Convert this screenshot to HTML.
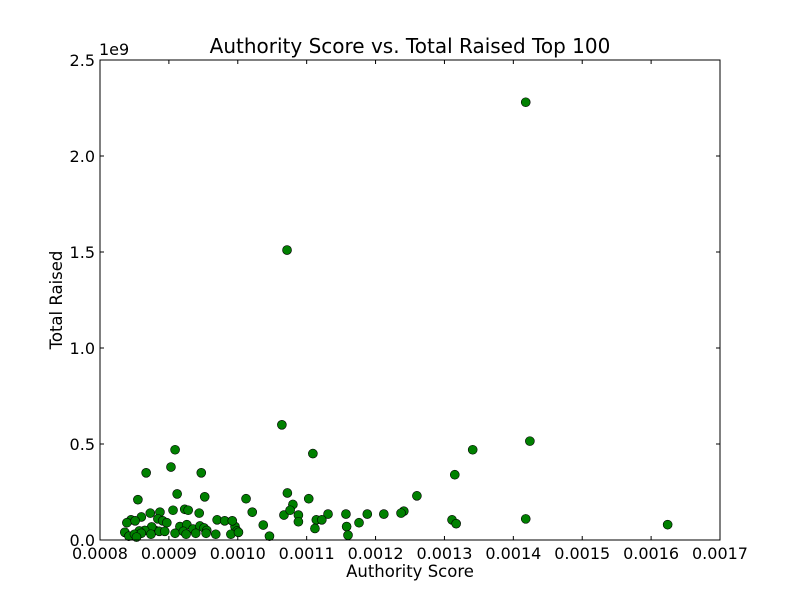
<!DOCTYPE html>
<html><head><meta charset="utf-8"><style>
html,body{margin:0;padding:0;background:#fff;}
svg{display:block;font-family:"DejaVu Sans","Liberation Sans",sans-serif;}
</style></head><body>
<svg id="chart" width="800" height="600" xmlns="http://www.w3.org/2000/svg">
<rect x="0" y="0" width="800" height="600" fill="#fff"/>
<text x="410" y="53" font-size="20" text-anchor="middle">Authority Score vs. Total Raised Top 100</text>
<text x="410" y="577" font-size="16.5" text-anchor="middle">Authority Score</text>
<text x="62" y="300" font-size="16.5" text-anchor="middle" transform="rotate(-90 62 300)">Total Raised</text>
<text x="99" y="55" font-size="16">1e9</text>
<g id="ticks"></g>
<g id="points"></g>
<rect x="100" y="60" width="620" height="480" fill="none" stroke="#000" stroke-width="1"/>
</svg>
<script>
const xTicks = [0.0008,0.0009,0.0010,0.0011,0.0012,0.0013,0.0014,0.0015,0.0016,0.0017];
const xTickLabels = ["0.0008","0.0009","0.0010","0.0011","0.0012","0.0013","0.0014","0.0015","0.0016","0.0017"];
const yTicks = [0,0.5,1.0,1.5,2.0,2.5];
const yTickLabels = ["0.0","0.5","1.0","1.5","2.0","2.5"];
const authorityScore = [0.001418,0.0010715,0.001064,0.001109,0.000909,0.000867,0.000903,0.000947,0.001424,0.001341,0.001315,0.000912,0.000952,0.000855,0.001012,0.001072,0.00108,0.001103,0.00126,0.001241,0.001237,0.001188,0.001212,0.001157,0.001131,0.001088,0.001067,0.001076,0.001021,0.000996,0.00097,0.000981,0.000992,0.000999,0.00099,0.000968,0.001037,0.001046,0.001088,0.001114,0.001122,0.001112,0.001158,0.00116,0.001176,0.001311,0.001317,0.001418,0.001624,0.000906,0.000923,0.000928,0.000944,0.000887,0.000873,0.00086,0.000845,0.000839,0.000851,0.000884,0.000891,0.000897,0.000916,0.000926,0.000935,0.000945,0.000951,0.000955,0.00088,0.000875,0.000865,0.000857,0.000836,0.000842,0.00085,0.00086,0.000874,0.000886,0.000894,0.000909,0.000921,0.000925,0.000939,0.000954,0.001001,0.000853];
const totalRaised = [2.28,1.51,0.60,0.45,0.47,0.35,0.38,0.35,0.515,0.47,0.34,0.24,0.225,0.21,0.215,0.245,0.185,0.215,0.23,0.15,0.14,0.135,0.135,0.135,0.135,0.13,0.13,0.155,0.145,0.07,0.105,0.10,0.10,0.047,0.03,0.03,0.078,0.02,0.095,0.105,0.105,0.06,0.07,0.025,0.09,0.105,0.085,0.11,0.08,0.155,0.16,0.155,0.14,0.145,0.14,0.12,0.105,0.09,0.10,0.11,0.10,0.09,0.07,0.08,0.057,0.073,0.063,0.05,0.05,0.068,0.05,0.047,0.04,0.02,0.03,0.035,0.03,0.045,0.045,0.035,0.045,0.03,0.035,0.035,0.04,0.015];
const L=100,R=720,T=60,B=540,X0=0.0008,X1=0.0017,Y0=0,Y1=2.5;
const sx=v=>L+(v-X0)/(X1-X0)*(R-L);
const sy=v=>B-(v-Y0)/(Y1-Y0)*(B-T);
const NS="http://www.w3.org/2000/svg";
const tg=document.getElementById('ticks'), pg=document.getElementById('points');
function mk(tag,attrs,parent){const e=document.createElementNS(NS,tag);for(const k in attrs)e.setAttribute(k,attrs[k]);parent.appendChild(e);return e;}
xTicks.forEach((v,i)=>{const x=sx(v);
 const a=mk('line',{x1:x,x2:x,y1:B,y2:B-4,stroke:'#000'},tg);
 
 
 const b=mk('line',{x1:x,x2:x,y1:T,y2:T+4,stroke:'#000'},tg);
 
 
 const t=mk('text',{x:x,y:B+19,'font-size':16,'text-anchor':'middle'},tg);t.textContent=xTickLabels[i];
 
 
});
yTicks.forEach((v,i)=>{const y=sy(v);
 const a=mk('line',{x1:L,x2:L+4,y1:y,y2:y,stroke:'#000'},tg);
 
 
 const b=mk('line',{x1:R,x2:R-4,y1:y,y2:y,stroke:'#000'},tg);
 
 
 const t=mk('text',{x:L-5,y:y+6,'font-size':16,'text-anchor':'end'},tg);t.textContent=yTickLabels[i];
 
 
});
authorityScore.forEach((v,i)=>{
 const c=mk('circle',{cx:sx(v),cy:sy(totalRaised[i]),r:4.5,fill:'#008000',stroke:'#000','stroke-width':0.6},pg);
 
 
});
</script>
</body></html>
